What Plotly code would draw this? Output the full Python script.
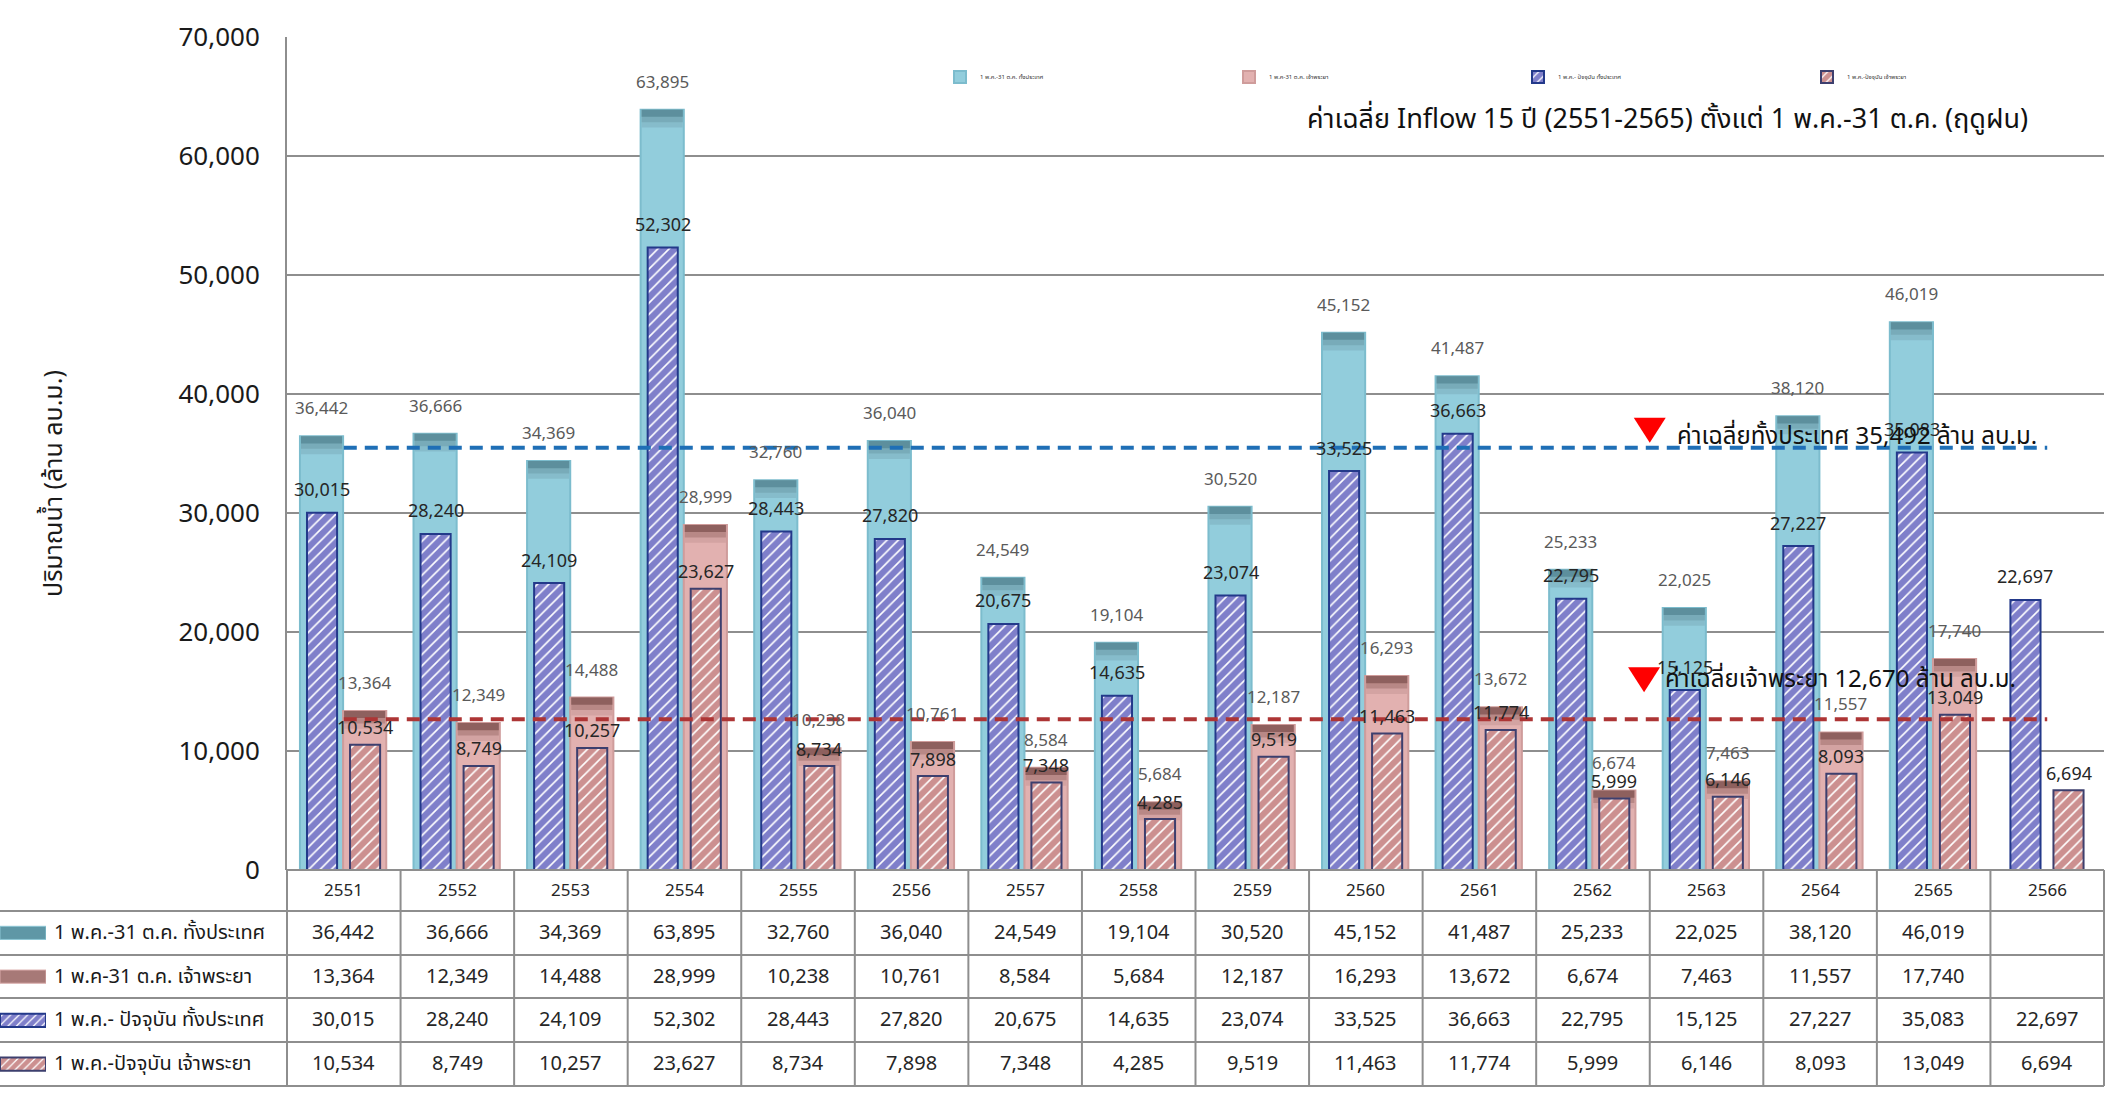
import plotly.graph_objects as go

# ---- data -------------------------------------------------------------
years = ["2551", "2552", "2553", "2554", "2555", "2556", "2557", "2558",
         "2559", "2560", "2561", "2562", "2563", "2564", "2565", "2566"]

# 1 May - 31 Oct, whole country
season_all = [36442, 36666, 34369, 63895, 32760, 36040, 24549, 19104,
              30520, 45152, 41487, 25233, 22025, 38120, 46019, None]
# 1 May - 31 Oct, Chao Phraya
season_cp = [13364, 12349, 14488, 28999, 10238, 10761, 8584, 5684,
             12187, 16293, 13672, 6674, 7463, 11557, 17740, None]
# 1 May - to date, whole country
todate_all = [30015, 28240, 24109, 52302, 28443, 27820, 20675, 14635,
              23074, 33525, 36663, 22795, 15125, 27227, 35083, 22697]
# 1 May - to date, Chao Phraya
todate_cp = [10534, 8749, 10257, 23627, 8734, 7898, 7348, 4285,
             9519, 11463, 11774, 5999, 6146, 8093, 13049, 6694]

avg_all = 35492
avg_cp = 12670

series_names = ["1 พ.ค.-31 ต.ค. ทั้งประเทศ",
                "1 พ.ค-31 ต.ค. เจ้าพระยา",
                "1 พ.ค.- ปัจจุบัน ทั้งประเทศ",
                "1 พ.ค.-ปัจจุบัน เจ้าพระยา"]

y_title = "ปริมาณน้ำ (ล้าน ลบ.ม.)"
chart_note = "ค่าเฉลี่ย Inflow 15 ปี (2551-2565) ตั้งแต่ 1 พ.ค.-31 ต.ค. (ฤดูฝน)"
avg_all_text = "ค่าเฉลี่ยทั้งประเทศ {:,} ล้าน ลบ.ม.".format(avg_all)
avg_cp_text = "ค่าเฉลี่ยเจ้าพระยา {:,} ล้าน ลบ.ม.".format(avg_cp)

# ---- layout helpers (pixel -> paper) ------------------------------------
W, H = 2126, 1096
FONT = "Tahoma, 'Noto Sans Thai', 'Noto Sans', 'DejaVu Sans', sans-serif"


def px(x):
    return x / W


def py(y):
    return 1 - y / H


PLOT_L, PLOT_R, PLOT_T, PLOT_B = 287, 2104, 37, 870
ROW_Y = [870, 911, 955, 998, 1042, 1086]   # table row boundaries
n = len(years)
idx = list(range(n))
col_w = (PLOT_R - PLOT_L) / n

# bar geometry inside each category (fraction of the category)
W_SEASON, OFF_ALL, OFF_CP = 0.38, -0.386, -0.006
W_TODATE, OFF_ALL_TD, OFF_CP_TD = 0.265, -0.324, 0.055

BLUE_FILL, BLUE_EDGE = "#92cddc", "#7cbccd"
PINK_FILL, PINK_EDGE = "#e2b1b0", "#cf9c9b"
HATCH_BLUE, HATCH_RED = "#000096", "#9a2222"

fig = go.Figure()

# full-season bars
fig.add_trace(go.Bar(x=idx, y=season_all, width=W_SEASON, offset=OFF_ALL,
                     name=series_names[0],
                     marker=dict(color=BLUE_FILL, line=dict(color=BLUE_EDGE, width=2))))
fig.add_trace(go.Bar(x=idx, y=season_cp, width=W_SEASON, offset=OFF_CP,
                     name=series_names[1],
                     marker=dict(color=PINK_FILL, line=dict(color=PINK_EDGE, width=2))))


# shaded top caps of the full-season bars
def caps(values, depth):
    base = [None if v is None else v - depth for v in values]
    hgt = [None if v is None else depth for v in values]
    return base, hgt


for vals, off, cols in ((season_all, OFF_ALL, ("#86bccb", "#78abb9", "#5d8f9d")),
                        (season_cp, OFF_CP, ("#d3a3a2", "#b88886", "#8e605e"))):
    for depth, col in ((1500, cols[0]), (1050, cols[1]), (600, cols[2])):
        b, h = caps(vals, depth)
        fig.add_trace(go.Bar(x=idx, y=h, base=b, width=W_SEASON - 0.018,
                             offset=off + 0.009, marker=dict(color=col, line=dict(width=0)),
                             showlegend=False, hoverinfo="skip"))

# to-date hatched bars
fig.add_trace(go.Bar(x=idx, y=todate_all, width=W_TODATE, offset=OFF_ALL_TD,
                     name=series_names[2],
                     marker=dict(color="white",
                                 pattern=dict(shape="/", fgcolor=HATCH_BLUE, bgcolor="white",
                                              size=8, solidity=0.8),
                                 line=dict(color="#23398a", width=2))))
fig.add_trace(go.Bar(x=idx, y=todate_cp, width=W_TODATE, offset=OFF_CP_TD,
                     name=series_names[3],
                     marker=dict(color="white",
                                 pattern=dict(shape="/", fgcolor=HATCH_RED, bgcolor="white",
                                              size=8, solidity=0.8),
                                 line=dict(color="#3d3f6e", width=2))))

# average lines
fig.add_trace(go.Scatter(x=idx, y=[avg_all] * n, mode="lines", showlegend=False,
                         line=dict(color="#1f6fb6", width=4, dash="13px,8px")))
fig.add_trace(go.Scatter(x=idx, y=[avg_cp] * n, mode="lines", showlegend=False,
                         line=dict(color="#ad3535", width=4, dash="13px,8px")))

# legend keys of the data table (small horizontal bars)
key_styles = [
    dict(color="#5f97a6", line=dict(color="#8cc6d4", width=1)),
    dict(color="#a77977", line=dict(color="#d9aaa9", width=1)),
    dict(color="white", pattern=dict(shape="/", fgcolor=HATCH_BLUE, bgcolor="white",
                                     size=6, solidity=0.8),
         line=dict(color="#23398a", width=2)),
    dict(color="white", pattern=dict(shape="/", fgcolor=HATCH_RED, bgcolor="white",
                                     size=6, solidity=0.8),
         line=dict(color="#3d3f6e", width=2)),
]
for k, st in enumerate(key_styles):
    fig.add_trace(go.Bar(x=[1], y=[k], orientation="h", width=0.3, marker=st,
                         xaxis="x2", yaxis="y2", showlegend=False, hoverinfo="skip"))

annotations = []


# value labels over the bars
def add_labels(values, center, color, size, shift):
    for i, v in enumerate(values):
        if v is None:
            continue
        annotations.append(dict(x=i + center, y=v, xref="x", yref="y",
                                xanchor="center", yanchor="middle",
                                text="{:,}".format(v), showarrow=False, yshift=shift,
                                font=dict(family=FONT, size=size, color=color)))


add_labels(season_all, OFF_ALL + W_SEASON / 2, "#5a5a5a", 17, 27)
add_labels(season_cp, OFF_CP + W_SEASON / 2, "#5a5a5a", 17, 27)
add_labels(todate_all, OFF_ALL_TD + W_TODATE / 2, "#262626", 18, 22)
add_labels(todate_cp, OFF_CP_TD + W_TODATE / 2, "#262626", 18, 16)

# data table
shapes = []
GRID = "#8e8e8e"
shapes.append(dict(type="line", xref="paper", yref="paper", x0=px(PLOT_L), x1=px(PLOT_R),
                   y0=py(ROW_Y[0]), y1=py(ROW_Y[0]), line=dict(color=GRID, width=2)))
for yy in ROW_Y[1:]:
    shapes.append(dict(type="line", xref="paper", yref="paper", x0=0, x1=px(PLOT_R),
                       y0=py(yy), y1=py(yy), line=dict(color=GRID, width=2)))
for k in range(n + 1):
    xx = PLOT_L + k * col_w
    shapes.append(dict(type="line", xref="paper", yref="paper", x0=px(xx), x1=px(xx),
                       y0=py(ROW_Y[0]), y1=py(ROW_Y[-1]), line=dict(color=GRID, width=2)))

for i, yr in enumerate(years):
    annotations.append(dict(x=i, y=py((ROW_Y[0] + ROW_Y[1]) / 2), xref="x", yref="paper",
                            xanchor="center", yanchor="middle",
                            text=yr, showarrow=False,
                            font=dict(family=FONT, size=17, color="#262626")))

table_rows = [season_all, season_cp, todate_all, todate_cp]
for r, row in enumerate(table_rows):
    yc = py((ROW_Y[r + 1] + ROW_Y[r + 2]) / 2)
    annotations.append(dict(x=px(52), y=yc, xref="paper", yref="paper",
                            xanchor="left", yanchor="middle",
                            text=series_names[r], showarrow=False,
                            font=dict(family=FONT, size=20, color="#1a1a1a")))
    for i, v in enumerate(row):
        if v is None:
            continue
        annotations.append(dict(x=i, y=yc, xref="x", yref="paper",
                                xanchor="center", yanchor="middle",
                                text="{:,}".format(v), showarrow=False,
                                font=dict(family=FONT, size=20, color="#262626")))

# average markers and captions
MARK_X = 11.5
shapes.append(dict(type="path", xref="x", yref="y", xsizemode="pixel", ysizemode="pixel",
                   xanchor=MARK_X, yanchor=avg_all, path="M-16,30 L16,30 L0,5 Z",
                   fillcolor="#ff0000", line=dict(width=0)))
shapes.append(dict(type="path", xref="x", yref="y", xsizemode="pixel", ysizemode="pixel",
                   xanchor=MARK_X - 0.05, yanchor=avg_cp, path="M-16,52 L16,52 L0,27 Z",
                   fillcolor="#ff0000", line=dict(width=0)))
annotations.append(dict(x=MARK_X + 0.22, y=avg_all, xref="x", yref="y",
                        xanchor="left", yanchor="middle",
                        yshift=11, text=avg_all_text, showarrow=False,
                        font=dict(family=FONT, size=24, color="#111111")))
annotations.append(dict(x=MARK_X + 0.12, y=avg_cp, xref="x", yref="y",
                        xanchor="left", yanchor="middle",
                        yshift=39, text=avg_cp_text, showarrow=False,
                        font=dict(family=FONT, size=24, color="#111111")))

annotations.append(dict(x=px(2030), y=py(119), xref="paper", yref="paper",
                        xanchor="right", yanchor="middle",
                        text=chart_note, showarrow=False,
                        font=dict(family=FONT, size=27, color="#111111")))
annotations.append(dict(x=px(54), y=py(484), xref="paper", yref="paper", textangle=-90,
                        xanchor="center", yanchor="middle",
                        text=y_title, showarrow=False,
                        font=dict(family=FONT, size=25, color="#1a1a1a")))

fig.update_layout(
    width=W, height=H,
    margin=dict(l=0, r=0, t=0, b=0, autoexpand=False),
    paper_bgcolor="white", plot_bgcolor="white",
    barmode="overlay",
    font=dict(family=FONT),
    xaxis=dict(domain=[px(PLOT_L), px(PLOT_R)], range=[-0.5, n - 0.5], automargin=False,
               showgrid=False, showticklabels=False, zeroline=False, showline=False,
               fixedrange=True),
    yaxis=dict(domain=[py(PLOT_B), py(PLOT_T)], range=[0, 70000], dtick=10000,
               automargin=False,
               tickformat=",", showgrid=True, gridcolor=GRID, gridwidth=2,
               zeroline=False, showline=True, linecolor=GRID, linewidth=2,
               ticks="", ticklabelstandoff=20,
               tickfont=dict(family=FONT, size=26, color="#1a1a1a")),
    xaxis2=dict(domain=[0, px(46)], range=[0, 1], anchor="y2", visible=False,
                automargin=False),
    yaxis2=dict(domain=[py(ROW_Y[-1]), py(ROW_Y[1])], range=[3.5, -0.5], anchor="x2",
                visible=False, automargin=False),
    legend=dict(orientation="h", x=px(940), y=py(77), xanchor="left", yanchor="middle",
                font=dict(family=FONT, size=6, color="#333333"),
                entrywidth=244, entrywidthmode="pixels", itemwidth=30,
                bgcolor="rgba(0,0,0,0)"),
    shapes=shapes,
    annotations=annotations,
)

fig.write_html("out.html")
